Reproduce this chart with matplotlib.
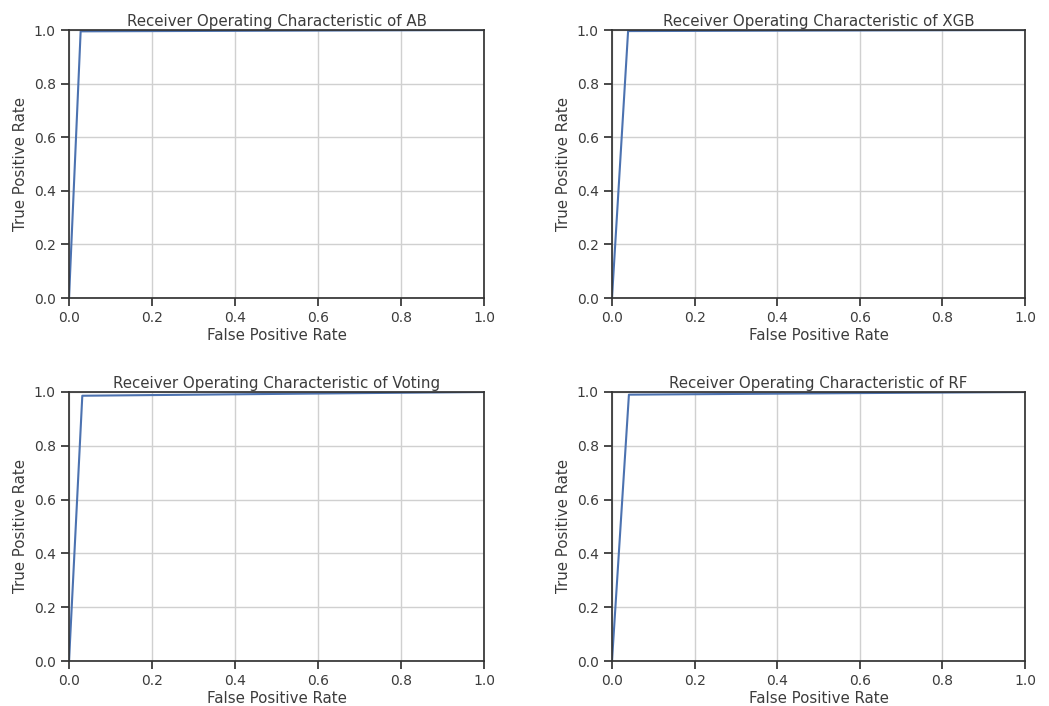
import matplotlib
matplotlib.use("Agg")
import matplotlib.pyplot as plt
import seaborn as sns

sns.set_theme(style="ticks")
plt.rcParams['font.family'] = ['DejaVu Sans']
txt = "#3c3c3c"
plt.rcParams['text.color'] = txt
plt.rcParams['axes.labelcolor'] = txt
plt.rcParams['xtick.color'] = "#333333"
plt.rcParams['ytick.color'] = "#333333"
plt.rcParams['xtick.labelcolor'] = txt
plt.rcParams['ytick.labelcolor'] = txt

models = ["AB", "XGB", "Voting", "RF"]
fpr = {
    "AB": [0.0, 0.028, 1.0],
    "XGB": [0.0, 0.039, 1.0],
    "Voting": [0.0, 0.032, 1.0],
    "RF": [0.0, 0.041, 1.0],
}
tpr = {
    "AB": [0.0, 0.995, 1.0],
    "XGB": [0.0, 0.996, 1.0],
    "Voting": [0.0, 0.986, 1.0],
    "RF": [0.0, 0.990, 1.0],
}
ticks = [0.0, 0.2, 0.4, 0.6, 0.8, 1.0]

fig = plt.figure(figsize=(10.49, 7.06), dpi=100)
positions = [
    (0.0658, 0.5779, 0.3956, 0.3796),
    (0.5834, 0.5779, 0.3937, 0.3796),
    (0.0658, 0.0637, 0.3956, 0.3811),
    (0.5834, 0.0637, 0.3937, 0.3811),
]
for name, pos in zip(models, positions):
    ax = fig.add_axes(pos)
    ax.plot(fpr[name], tpr[name], color="#4c72b0", lw=1.5)
    ax.set_xlim(0, 1)
    ax.set_ylim(0, 1)
    ax.set_xticks(ticks)
    ax.set_yticks(ticks)
    ax.tick_params(labelsize=10)
    ax.grid(True, color="#d0d0d0", lw=1)
    ax.set_axisbelow(True)
    ax.set_title(f"Receiver Operating Characteristic of {name}", fontsize=10.8, pad=3, color=txt)
    ax.set_xlabel("False Positive Rate", fontsize=10.8, labelpad=2)
    ax.set_ylabel("True Positive Rate", fontsize=10.8, labelpad=4)
    for s in ax.spines.values():
        s.set_color("#333333")

fig.savefig("out.png", dpi=100)
